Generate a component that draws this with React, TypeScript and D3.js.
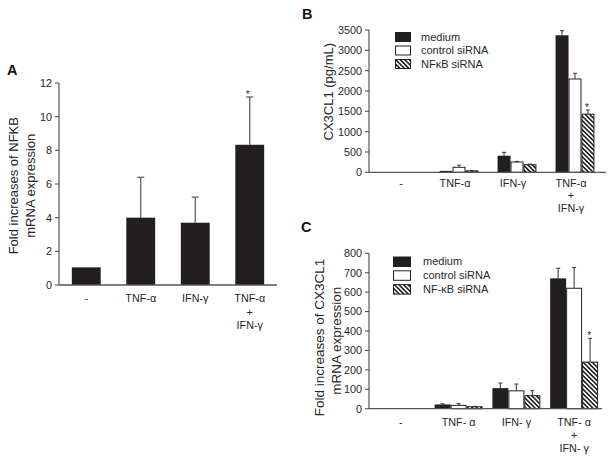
import React from 'react';
import * as d3 from 'd3';

// ---------- Panel A data ----------
const categoriesA = ['-', 'TNF-α', 'IFN-γ', 'TNF-α + IFN-γ'];
const xLabelsA = [['-'], ['TNF-α'], ['IFN-γ'], ['TNF-α', '+', 'IFN-γ']];
const valuesA = [1.05, 4.0, 3.7, 8.33];
const errTopA = [1.05, 6.4, 5.22, 11.17];
const ticksA = [0, 2, 4, 6, 8, 10, 12];
const starA = [false, false, false, true];

// ---------- Panel B data ----------
const categoriesB = ['-', 'TNF-α', 'IFN-γ', 'TNF-α + IFN-γ'];
const xLabelsB = [['-'], ['TNF-α'], ['IFN-γ'], ['TNF-α', '+', 'IFN-γ']];
const seriesB = ['medium', 'control siRNA', 'NFκB siRNA'];
const mediumB = [0, 35, 408, 3370];
const mediumErrB = [0, 35, 490, 3485];
const controlB = [0, 123, 253, 2295];
const controlErrB = [0, 175, 268, 2435];
const nfkbB = [0, 35, 187, 1430];
const nfkbErrB = [0, 40, 200, 1532];
const ticksB = [0, 500, 1000, 1500, 2000, 2500, 3000, 3500];
const starB = [false, false, false, true];

// ---------- Panel C data ----------
const categoriesC = ['-', 'TNF- α', 'IFN- γ', 'TNF- α + IFN- γ'];
const xLabelsC = [['-'], ['TNF- α'], ['IFN- γ'], ['TNF- α', '+', 'IFN- γ']];
const seriesC = ['medium', 'control siRNA', 'NF-κB siRNA'];
const mediumC = [0, 22, 106, 671];
const mediumErrC = [0, 25, 132, 723];
const controlC = [0, 17, 92, 620];
const controlErrC = [0, 26, 127, 727];
const nfkbC = [0, 10, 67, 240];
const nfkbErrC = [0, 12, 93, 362];
const ticksC = [0, 100, 200, 300, 400, 500, 600, 700, 800];
const starC = [false, false, false, true];

const FONT = '"Liberation Sans", Arial, Helvetica, sans-serif';
const DARK = '#231f20';
const TXT = '#262626';
const AXIS = '#555';

function fillFor(i: number) {
  if (i === 0) return DARK;
  if (i === 1) return '#fff';
  return 'url(#hatch)';
}

function YAxis({ y, ticks, x }: { y: d3.ScaleLinear<number, number>; ticks: number[]; x: number }) {
  const [d0, d1] = y.domain();
  return (
    <g>
      <line x1={x} x2={x} y1={y(d0)} y2={y(d1)} stroke={AXIS} strokeWidth={1.2} />
      {ticks.map((t) => (
        <g key={t}>
          <line x1={x - 4} x2={x} y1={y(t)} y2={y(t)} stroke={AXIS} strokeWidth={1.1} />
          <text x={x - 7} y={y(t)} dy="0.36em" textAnchor="end" fontSize={10.8} fill={TXT} fontFamily={FONT}>
            {String(t)}
          </text>
        </g>
      ))}
    </g>
  );
}

function XLabels({ x, cats, labels, baselines, dx = 0, size = 10.8 }: { x: d3.ScaleBand<string>; cats: string[]; labels: string[][]; baselines: number[]; dx?: number; size?: number }) {
  return (
    <g>
      {cats.map((c, i) => (
        <g key={c}>
          {labels[i].map((l, j) => (
            <text key={j} x={(x(c) as number) + x.bandwidth() / 2 + (i === 0 ? 0 : dx)} y={baselines[j]} textAnchor="middle" fontSize={size} fill={TXT} fontFamily={FONT}>
              {l}
            </text>
          ))}
        </g>
      ))}
    </g>
  );
}

function PanelA() {
  const x0 = 59, x1 = 277;
  const y = d3.scaleLinear().domain([0, 12]).range([285, 83]);
  const x = d3.scaleBand<string>().domain(categoriesA).range([x0, x1]).paddingInner(0.47).paddingOuter(0.235);
  return (
    <g>
      <text x={7} y={75} fontSize={14.5} fontWeight="bold" fill="#111" fontFamily={FONT}>A</text>
      <g transform={`translate(18,185.7) rotate(-90)`}>
        <text textAnchor="middle" fontSize={13} fill={TXT} fontFamily={FONT}>Fold increases of  NFKB</text>
      </g>
      <g transform={`translate(34.5,185.7) rotate(-90)`}>
        <text textAnchor="middle" fontSize={13} fill={TXT} fontFamily={FONT}>mRNA expression</text>
      </g>
      {categoriesA.map((c, i) => {
        const bx = x(c) as number;
        const cx = bx + x.bandwidth() / 2;
        return (
          <g key={c}>
            {errTopA[i] > valuesA[i] && (
              <g stroke="#555" strokeWidth={1.2}>
                <line x1={cx} x2={cx} y1={y(valuesA[i])} y2={y(errTopA[i])} />
                <line x1={cx - 3.5} x2={cx + 3.5} y1={y(errTopA[i])} y2={y(errTopA[i])} />
              </g>
            )}
            <rect x={bx} y={y(valuesA[i])} width={x.bandwidth()} height={y(0) - y(valuesA[i])} fill={DARK} />
            {starA[i] && (
              <text x={cx - 2} y={y(errTopA[i]) + 1} textAnchor="middle" fontSize={10} fill={TXT} fontFamily={FONT}>*</text>
            )}
          </g>
        );
      })}
      <line x1={x0} x2={x1} y1={y(0)} y2={y(0)} stroke={AXIS} strokeWidth={1.3} />
      <YAxis y={y} ticks={ticksA} x={x0} />
      <XLabels x={x} cats={categoriesA} labels={xLabelsA} baselines={[302, 316, 329]} />
    </g>
  );
}

type GP = {
  letter: string;
  letterPos: [number, number];
  cats: string[];
  labels: string[][];
  names: string[];
  vals: number[][];
  errs: number[][];
  stars: boolean[];
  ticks: number[];
  domainMax: number;
  yRange: [number, number];
  xRange: [number, number];
  axisX: number;
  axisEnd: number;
  pad: number;
  titleLines: string[];
  titleX: number[];
  titleY: number[];
  titleSize: number;
  legend: { x: number; y: number; w: number; h: number; step: number; tx: number };
  baselines: number[];
  labelDx: number;
};

function GroupPanel(p: GP) {
  const y = d3.scaleLinear().domain([0, p.domainMax]).range(p.yRange);
  const x = d3.scaleBand<string>().domain(p.cats).range(p.xRange).paddingInner(p.pad).paddingOuter(p.pad / 2);
  const xs = d3.scaleBand<string>().domain(p.names).range([0, x.bandwidth()]).padding(0);
  return (
    <g>
      <text x={p.letterPos[0]} y={p.letterPos[1]} fontSize={14.5} fontWeight="bold" fill="#111" fontFamily={FONT}>{p.letter}</text>
      {p.titleLines.map((t, i) => (
        <g key={i} transform={`translate(${p.titleX[i]},${p.titleY[i]}) rotate(-90)`}>
          <text textAnchor="middle" fontSize={p.titleSize} fill={TXT} fontFamily={FONT}>{t}</text>
        </g>
      ))}
      {p.cats.map((c, ci) => (
        <g key={c} transform={`translate(${x(c)},0)`}>
          {p.names.map((n, si) => {
            const v = p.vals[si][ci];
            const e = p.errs[si][ci];
            const bx = xs(n) as number;
            const w = xs.bandwidth();
            const cx = bx + w / 2;
            if (v <= 0) return null;
            return (
              <g key={n}>
                {e > v && (
                  <g stroke="#444" strokeWidth={1.1}>
                    <line x1={cx} x2={cx} y1={y(v)} y2={y(e)} />
                    <line x1={cx - 2} x2={cx + 2} y1={y(e)} y2={y(e)} />
                  </g>
                )}
                <rect x={bx + (si === 0 ? 0 : 0.5)} y={y(v)} width={w - (si === 0 ? 0 : 1)} height={y(0) - y(v)} fill={fillFor(si)} stroke={si === 0 ? 'none' : '#222'} strokeWidth={1} />
                {si === 2 && p.stars[ci] && (
                  <text x={cx - 1} y={y(e) + 1} textAnchor="middle" fontSize={10} fill={TXT} fontFamily={FONT}>*</text>
                )}
              </g>
            );
          })}
        </g>
      ))}
      <line x1={p.axisX} x2={p.axisEnd} y1={y(0)} y2={y(0)} stroke={AXIS} strokeWidth={1.3} />
      <YAxis y={y} ticks={p.ticks} x={p.axisX} />
      <XLabels x={x} cats={p.cats} labels={p.labels} baselines={p.baselines} dx={p.labelDx} />
      {p.names.map((n, i) => (
        <g key={n}>
          <rect x={p.legend.x + 0.5} y={p.legend.y + i * p.legend.step + 0.5} width={p.legend.w} height={p.legend.h} fill={fillFor(i)} stroke={i === 0 ? DARK : '#222'} strokeWidth={1} />
          <text x={p.legend.tx} y={p.legend.y + i * p.legend.step + p.legend.h / 2 + 4} fontSize={11} fill={TXT} fontFamily={FONT}>{n}</text>
        </g>
      ))}
    </g>
  );
}

export default function App() {
  return (
    <svg width={609} height={460} viewBox="0 0 609 460" style={{ position: 'absolute', left: 0, top: 0, background: '#fff' }}>
      <defs>
        <pattern id="hatch" patternUnits="userSpaceOnUse" width={3.2} height={3.2} patternTransform="rotate(-45)">
          <rect x={0} y={0} width={3.2} height={3.2} fill="#fff" />
          <rect x={0} y={0} width={1.6} height={3.2} fill="#222" />
        </pattern>
      </defs>
      <rect width={609} height={460} fill="#fff" />
      <PanelA />
      <GroupPanel
        letter="B"
        letterPos={[302, 18.5]}
        cats={categoriesB}
        labels={xLabelsB}
        names={seriesB}
        vals={[mediumB, controlB, nfkbB]}
        errs={[mediumErrB, controlErrB, nfkbErrB]}
        stars={starB}
        ticks={ticksB}
        domainMax={3500}
        yRange={[172.3, 30]}
        xRange={[372, 604]}
        axisX={369}
        axisEnd={606}
        pad={0.33}
        titleLines={['CX3CL1 (pg/mL)']}
        titleX={[333]}
        titleY={[91.7]}
        titleSize={13}
        legend={{ x: 395, y: 32, w: 15, h: 9, step: 13.5, tx: 421 }}
        baselines={[186.5, 199, 211.5]}
        labelDx={-4}
      />
      <GroupPanel
        letter="C"
        letterPos={[301, 231.7]}
        cats={categoriesC}
        labels={xLabelsC}
        names={seriesC}
        vals={[mediumC, controlC, nfkbC]}
        errs={[mediumErrC, controlErrC, nfkbErrC]}
        stars={starC}
        ticks={ticksC}
        domainMax={800}
        yRange={[408.7, 253.3]}
        xRange={[372, 603]}
        axisX={369}
        axisEnd={602}
        pad={0.17}
        titleLines={['Fold increases of CX3CL1', 'mRNA expression']}
        titleX={[324, 341]}
        titleY={[337.5, 340.8]}
        titleSize={13.5}
        legend={{ x: 393, y: 256.5, w: 17, h: 9.5, step: 13.8, tx: 423 }}
        baselines={[425.5, 438.5, 452]}
        labelDx={0}
      />
    </svg>
  );
}
